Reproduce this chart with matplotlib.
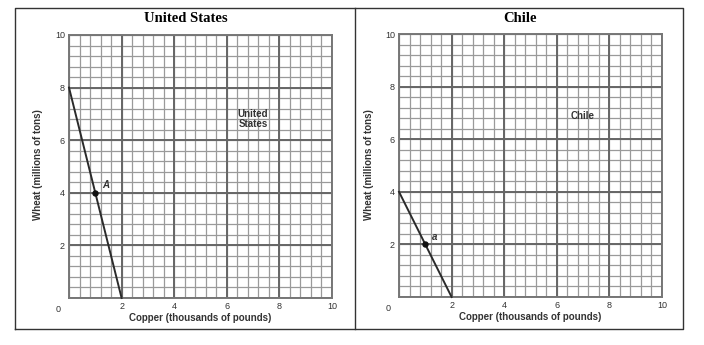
import matplotlib.pyplot as plt
from matplotlib.lines import Line2D
import numpy as np

# production possibilities frontiers (copper in thousands of pounds, wheat in millions of tons)
countries = ['United States', 'Chile']
copper_ends = [[0, 2], [0, 2]]
wheat_ends = [[8, 0], [4, 0]]
point_copper = [1, 1]
point_wheat = [4, 2]
point_names = ['A', 'a']
area_labels = ['United\nStates', 'Chile']
area_label_pos = [(7.0, 6.8), (7.0, 6.9)]

major_ticks = [0, 2, 4, 6, 8, 10]

W, H = 704, 345
fig = plt.figure(figsize=(W / 100, H / 100), dpi=100)

axes_px = [(69, 298), (399, 297)]  # (left, bottom) of plot area in pixels from top-left
size_px = 263
title_x = [186, 520]
ylabel_x = [38, 369]

for i, name in enumerate(countries):
    left, bottom = axes_px[i]
    ax = fig.add_axes([left / W, (H - bottom) / H, size_px / W, size_px / H])
    ax.set_xlim(0, 10)
    ax.set_ylim(0, 10)

    # minor grid every 0.4, major grid every 2
    minor = np.arange(0, 10.01, 0.4)
    for v in minor:
        ax.axvline(v, color='#9a9a9a', lw=0.9, zorder=1)
        ax.axhline(v, color='#9a9a9a', lw=0.9, zorder=1)
    for v in major_ticks:
        ax.axvline(v, color='#666666', lw=1.4, zorder=2)
        ax.axhline(v, color='#666666', lw=1.4, zorder=2)
    for s in ax.spines.values():
        s.set_color('#777777')
        s.set_linewidth(1.4)

    ax.set_xticks(major_ticks)
    ax.set_yticks(major_ticks)
    ax.set_xticklabels([''] + [str(t) for t in major_ticks[1:]])
    ax.set_yticklabels([''] + [str(t) for t in major_ticks[1:]])
    ax.tick_params(length=0, labelsize=6.5, labelcolor='#333333', pad=3)
    for lab in ax.get_xticklabels() + ax.get_yticklabels():
        lab.set_family('Liberation Sans')
    ax.text(-0.3, -0.25, '0', ha='right', va='top', fontsize=6.5, color='#333333',
            family='Liberation Sans')

    ax.plot(copper_ends[i], wheat_ends[i], color='#2a2a2a', lw=1.4, zorder=4,
            clip_on=False)
    ax.plot(point_copper[i], point_wheat[i], 'o', color='#111111', ms=3.6, zorder=5)
    ax.text(point_copper[i] + 0.25, point_wheat[i] + 0.1, point_names[i],
            fontsize=7, fontstyle='italic', fontweight='bold', color='#333333',
            ha='left', va='bottom', family='Liberation Sans', zorder=5)
    ax.text(area_label_pos[i][0], area_label_pos[i][1], area_labels[i],
            fontsize=7, fontweight='bold', color='#333333', ha='center', va='center',
            linespacing=0.95, family='Liberation Sans', zorder=5)

    ax.set_xlabel('Copper (thousands of pounds)', fontsize=7, fontweight='bold',
                  color='#333333', family='Liberation Sans', labelpad=1)
    fig.text(ylabel_x[i] / W, 1 - 165 / H, 'Wheat (millions of tons)', rotation=90,
             fontsize=7, fontweight='bold', color='#333333', family='Liberation Sans',
             ha='center', va='center')
    fig.text(title_x[i] / W, 1 - 18 / H, name, fontsize=10.5, fontweight='bold',
             family='Liberation Serif', ha='center', va='center')

# outer table box with centre divider
box_kw = dict(color='#333333', lw=1.0, transform=fig.transFigure)
x0, x1, xm = 15 / W, 683 / W, 355 / W
y0, y1 = 1 - 329 / H, 1 - 8 / H
fig.add_artist(Line2D([x0, x1, x1, x0, x0], [y0, y0, y1, y1, y0], **box_kw))
fig.add_artist(Line2D([xm, xm], [y0, y1], **box_kw))

fig.savefig('out.png', dpi=100)
